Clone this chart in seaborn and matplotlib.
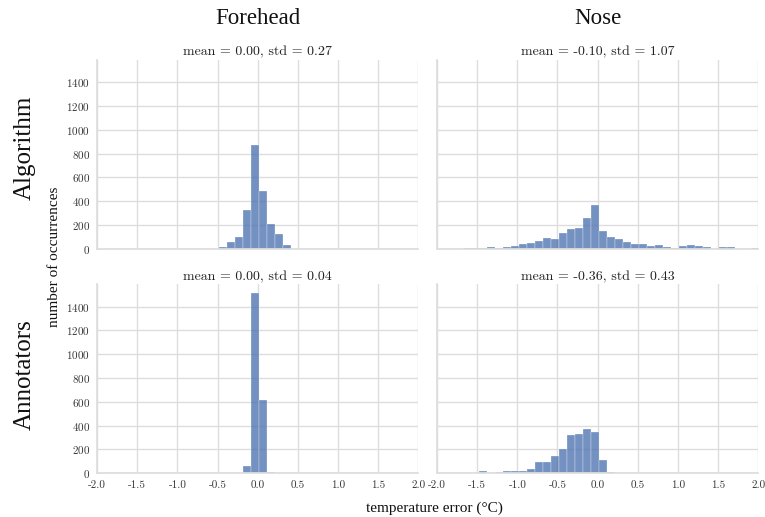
import numpy as np
import pandas as pd
import matplotlib
matplotlib.use("Agg")
import matplotlib.pyplot as plt
import seaborn as sns

# ---------------- data ----------------
bin_width = 0.1

forehead_algorithm_start = -0.483
forehead_algorithm_counts = [15, 53, 95, 327, 872, 484, 207, 125, 28]

nose_algorithm_start = -1.683
nose_algorithm_counts = [6, 3, 4, 15, 7, 12, 22, 35, 45, 62, 93, 82, 132, 165,
                         175, 258, 370, 152, 101, 82, 56, 40, 36, 20, 31, 17,
                         6, 20, 27, 20, 10, 0, 10, 10, 0, 0, 8]

forehead_annotators_start = -0.183
forehead_annotators_counts = [60, 1511, 618, 11]

nose_annotators_start = -1.483
nose_annotators_counts = [14, 0, 10, 20, 17, 21, 34, 89, 91, 146, 206, 317,
                          327, 368, 347, 112, 11]

column_labels = ["Forehead", "Nose"]
row_labels = ["Algorithm", "Annotators"]
panel_titles = [["mean = 0.00, std = 0.27", "mean = -0.10, std = 1.07"],
                ["mean = 0.00, std = 0.04", "mean = -0.36, std = 0.43"]]
x_ticks = [-2.0, -1.5, -1.0, -0.5, 0.0, 0.5, 1.0, 1.5, 2.0]
y_ticks = [0, 200, 400, 600, 800, 1000, 1200, 1400]

series = [[(forehead_algorithm_start, forehead_algorithm_counts),
           (nose_algorithm_start, nose_algorithm_counts)],
          [(forehead_annotators_start, forehead_annotators_counts),
           (nose_annotators_start, nose_annotators_counts)]]

# ---------------- style ----------------
sns.set_theme(style="whitegrid")
plt.rcParams["axes.unicode_minus"] = False
plt.rcParams["axes.formatter.use_mathtext"] = True
plt.rcParams["grid.color"] = "#dddddd"
plt.rcParams["axes.edgecolor"] = "#dddddd"

tick_font = "cmr10"
label_font = ["Liberation Serif", "DejaVu Serif"]

fig, axes = plt.subplots(2, 2, sharex=True, sharey=True,
                         figsize=(7.65, 5.17), dpi=100)
fig.subplots_adjust(left=0.127, right=0.991, top=0.884, bottom=0.085,
                    wspace=0.059, hspace=0.19)

bar_color = sns.color_palette("deep")[0]

for r in range(2):
    for c in range(2):
        ax = axes[r, c]
        start, counts = series[r][c]
        counts = [float(v) for v in counts]
        edges = [start + bin_width * i for i in range(len(counts) + 1)]
        centers = [(edges[i] + edges[i + 1]) / 2 for i in range(len(counts))]
        df = pd.DataFrame({"error": centers, "count": counts})
        sns.histplot(data=df, x="error", weights="count", bins=edges,
                     color=bar_color, alpha=0.78,
                     edgecolor=(1, 1, 1, 0.6), linewidth=0.35, ax=ax)
        ax.set_xlim(-2.0, 2.0)
        ax.set_xticks(x_ticks)
        ax.set_yticks(y_ticks)
        ax.set_xticklabels([f"{t:.1f}" for t in x_ticks])
        ax.set_xlabel("")
        ax.set_ylabel("")
        ax.set_title(panel_titles[r][c], fontsize=10, family=tick_font,
                     pad=3, color="#222222")
        for lab in ax.get_xticklabels() + ax.get_yticklabels():
            lab.set_family(tick_font)
            lab.set_fontsize(8)
            lab.set_color("#333333")
        ax.tick_params(axis="both", length=0, pad=5)
        sns.despine(ax=ax, top=True, right=True)

for c in range(2):
    axes[0, c].tick_params(axis="x", labelbottom=False)
for r in range(2):
    axes[r, 1].tick_params(axis="y", labelleft=False)

axes[0, 0].set_ylim(0, 1587)

# column headers
for c, name in enumerate(column_labels):
    pos = axes[0, c].get_position()
    fig.text((pos.x0 + pos.x1) / 2, 1 - 18 / 517, name, ha="center",
             va="center", fontsize=16.5, family=label_font, color="#111111")

# row headers
row_centers = [148, 375]
for r, name in enumerate(row_labels):
    fig.text(25 / 765, 1 - row_centers[r] / 517, name, ha="center",
             va="center", rotation=90, fontsize=18, family=label_font,
             color="#111111")

fig.text(55 / 765, 1 - 257 / 517, "number of occurrences", ha="center",
         va="center", rotation=90, fontsize=11, family=label_font,
         color="#111111")
fig.text(434 / 765, 1 - 508 / 517, "temperature error (°C)", ha="center",
         va="center", fontsize=11, family=label_font, color="#111111")

fig.savefig("out.png", dpi=100)
